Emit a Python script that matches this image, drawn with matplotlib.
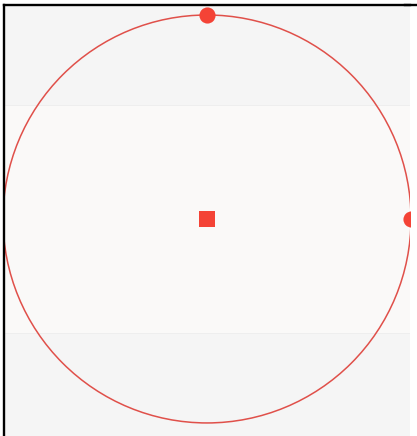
import matplotlib
matplotlib.use("Agg")
import matplotlib.pyplot as plt
from matplotlib.patches import Circle, Rectangle
from matplotlib.lines import Line2D
import numpy as np

# Data
center = [0.0, 0.0]
radius = 1.0
point_angles_deg = [90, 0]
band_half_height = 0.56

W, H = 417, 436
fig = plt.figure(figsize=(W / 100, H / 100), dpi=100)
fig.patch.set_facecolor("white")
ax = fig.add_axes([4 / W, 0, 406 / W, 431 / H])
ax.set_facecolor("#f5f5f5")
ax.set_xlim(-0.995, 0.995)
ax.set_ylim(-1.064, 1.049)

ax.add_patch(Rectangle((-1.0, -band_half_height), 1.995, 2 * band_half_height,
                       facecolor="#faf9f8", edgecolor="#ebebeb", lw=0.5, zorder=1))
ax.add_patch(Circle(center, radius, fill=False, edgecolor="#e0504a", lw=1.1, zorder=2))

ang = np.deg2rad(point_angles_deg)
px = center[0] + radius * np.cos(ang)
py = center[1] + radius * np.sin(ang)
ax.scatter(px, py, s=135, color="#f44336", zorder=3, linewidths=0)
ax.scatter([center[0]], [center[1]], s=145, marker="s", color="#f44336", zorder=3, linewidths=0)

ax.set_xticks([])
ax.set_yticks([])
for s in ["right", "bottom"]:
    ax.spines[s].set_visible(False)
for s in ["top", "left"]:
    ax.spines[s].set_linewidth(1.7)
    ax.spines[s].set_color("black")

# top border continues to the right edge of the figure
fig.add_artist(Line2D([405 / W, 1.0], [431 / H, 431 / H], color="black", lw=1.7,
                      transform=fig.transFigure))

fig.savefig("out.png", dpi=100)
